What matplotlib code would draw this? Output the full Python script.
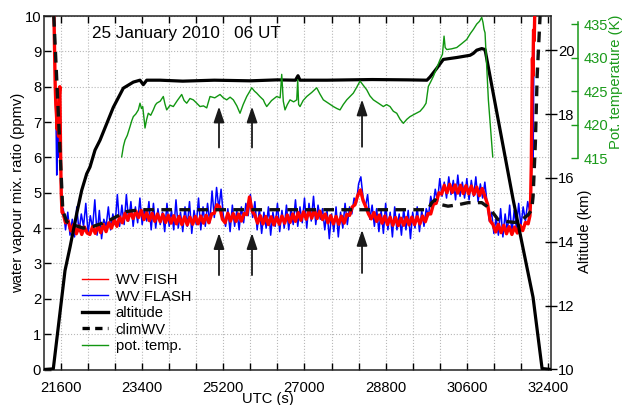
import numpy as np
import matplotlib
matplotlib.use("Agg")
import matplotlib.pyplot as plt
from matplotlib.lines import Line2D
from matplotlib.ticker import MultipleLocator, FixedLocator

plt.rcParams['font.family'] = ['Liberation Sans', 'DejaVu Sans']

# ---------------- data ----------------
# FISH water vapour (ppmv)
fish_t_left = [21440, 21455, 21470, 21485, 21500, 21515, 21530, 21545, 21560, 21575, 21590, 21605, 21622]
fish_v_left = [10.3, 9.2, 8.1, 7.5, 7.2, 6.8, 7.3, 6.6, 7.7, 8.0, 6.2, 5.0, 4.45]
fish_t_main = np.arange(21640, 31961, 60)
fish_v_main = [
    4.45, 4.15, 4.20, 3.92, 4.10, 3.84, 4.06, 3.82, 4.03, 3.86,
    3.82, 4.04, 3.85, 4.07, 3.87, 4.10, 3.90, 4.15, 4.00, 4.24,
    4.05, 4.32, 4.15, 4.42, 4.22, 4.47, 4.27, 4.48, 4.30, 4.50,
    4.24, 4.44, 4.21, 4.42, 4.19, 4.40, 4.18, 4.39, 4.16, 4.36,
    4.14, 4.35, 4.12, 4.33, 4.10, 4.32, 4.09, 4.31, 4.11, 4.33,
    4.12, 4.34, 4.14, 4.36, 4.15, 4.40, 4.42, 4.66, 4.60, 4.25,
    4.15, 4.42, 4.20, 4.41, 4.19, 4.40, 4.20, 4.41, 4.38, 4.88,
    4.48, 4.36, 4.14, 4.35, 4.12, 4.33, 4.10, 4.32, 4.09, 4.31,
    4.11, 4.34, 4.14, 4.37, 4.16, 4.40, 4.19, 4.44, 4.22, 4.46,
    4.25, 4.49, 4.28, 4.51, 4.27, 4.48, 4.24, 4.40, 4.15, 4.35,
    4.12, 4.33, 4.11, 4.34, 4.14, 4.39, 4.36, 4.60, 4.66, 4.92,
    5.08, 4.78, 4.60, 4.40, 4.26, 4.44, 4.19, 4.37, 4.14, 4.34,
    4.10, 4.31, 4.08, 4.30, 4.07, 4.28, 4.08, 4.30, 4.09, 4.31,
    4.10, 4.32, 4.12, 4.34, 4.18, 4.41, 4.40, 4.68, 4.70, 5.00,
    4.96, 5.21, 5.00, 5.24, 5.01, 5.22, 4.99, 5.21, 4.98, 5.20,
    4.97, 5.19, 4.95, 5.16, 4.92, 5.12, 4.90, 4.68, 4.20, 4.10,
    3.89, 4.11, 3.87, 4.08, 3.84, 4.04, 3.82, 4.03, 3.86, 4.08,
    3.93, 4.16, 4.12]
fish_t_right = [32000, 32015, 32030, 32045, 32055, 32065, 32080, 32095, 32110]
fish_v_right = [4.35, 4.8, 5.8, 7.8, 8.8, 8.3, 9.6, 9.3, 10.3]

# FLASH water vapour (ppmv)
flash_t_left = [21450, 21470, 21490, 21505, 21520, 21540, 21560, 21575, 21590, 21605, 21625]
flash_v_left = [10.2, 8.0, 7.0, 5.5, 6.8, 6.0, 7.5, 8.0, 6.5, 5.2, 4.4]
flash_t_main = np.arange(21650, 31951, 50)
flash_v_main = [
    4.55, 3.95, 4.45, 3.80, 4.25, 3.75, 4.60, 3.90, 4.40, 4.05,
    4.70, 3.85, 4.35, 4.00, 4.80, 3.80, 4.50, 3.70, 4.25, 4.05,
    4.60, 3.95, 4.40, 4.10, 4.95, 4.05, 4.65, 4.10, 4.95, 4.20,
    4.75, 4.05, 4.60, 4.15, 4.85, 4.10, 4.55, 4.20, 4.75, 3.95,
    4.70, 4.00, 4.55, 4.10, 4.45, 3.90, 4.70, 4.05, 4.50, 3.95,
    4.80, 4.00, 4.45, 3.90, 4.60, 4.05, 4.75, 3.85, 4.50, 4.10,
    4.85, 3.95, 4.60, 4.05, 4.70, 4.15, 5.05, 4.30, 5.15, 4.55,
    5.10, 4.35, 4.05, 4.55, 3.90, 4.65, 4.05, 4.50, 3.95, 4.60,
    4.15, 4.70, 4.35, 4.95, 4.30, 4.75, 3.95, 4.55, 3.85, 4.45,
    4.00, 4.60, 3.80, 4.45, 4.05, 4.70, 3.90, 4.50, 4.00, 4.65,
    3.95, 4.55, 4.10, 4.80, 4.05, 4.60, 4.15, 4.85, 4.00, 4.70,
    4.20, 4.90, 4.10, 4.65, 4.25, 4.55, 3.95, 4.50, 3.70, 4.40,
    3.90, 4.60, 3.75, 4.45, 4.00, 4.70, 4.10, 4.60, 4.40, 4.85,
    4.70, 5.25, 5.45, 4.85, 4.60, 4.95, 4.25, 4.65, 4.05, 4.55,
    3.90, 4.50, 3.85, 4.70, 3.95, 4.45, 3.75, 4.60, 3.95, 4.40,
    3.80, 4.55, 3.95, 4.50, 3.70, 4.45, 4.00, 4.60, 3.90, 4.50,
    4.05, 4.55, 4.35, 4.90, 4.60, 5.10, 4.75, 5.40, 4.90, 5.30,
    4.85, 5.45, 4.95, 5.35, 4.80, 5.50, 4.90, 5.30, 4.85, 5.40,
    4.80, 5.35, 4.90, 5.45, 4.75, 5.25, 4.85, 5.30, 4.70, 4.20,
    4.45, 3.85, 4.30, 3.80, 4.55, 3.75, 4.40, 3.90, 4.65, 3.85,
    4.50, 4.00, 4.70, 4.05, 4.60, 4.20, 4.75]
flash_t_right = [32000, 32020, 32040, 32055, 32070, 32085, 32100]
flash_v_right = [4.45, 4.7, 6.2, 7.0, 5.8, 8.5, 10.3]

# climatological water vapour (ppmv)
clim_t = [21440, 21640, 21726, 21873, 22095, 22316, 22614, 22835, 23057, 23352,
          29740, 29822, 29895, 30043, 30183, 30405, 30627, 30931, 31042, 31182,
          31293, 31515, 31670, 31818, 31958, 32040, 32070, 32120, 32160, 32225]
clim_v = [10.0, 4.5, 4.18, 4.09, 4.0, 4.05, 4.18, 4.33, 4.47, 4.52,
          4.52, 4.72, 4.8, 4.66, 4.62, 4.66, 4.72, 4.72, 4.62, 4.43,
          4.24, 4.18, 4.16, 4.24, 4.37, 4.52, 4.9, 6.4, 8.3, 10.0]

# altitude (km)
alt_t = [21220, 21429, 21689, 21800, 21948, 22059, 22170, 22243, 22354, 22465,
         22760, 22982, 23204, 23352, 23425, 23501, 23796, 24300, 25000, 25800,
         26400, 26800, 26856, 26900, 27500, 28500, 29300, 29715, 29784, 29933,
         30079, 30377, 30672, 30745, 30820, 30931, 31004, 31630, 32069, 32269, 32470]
alt_km = [10.0, 10.02, 13.1, 13.83, 14.88, 15.61, 16.13, 16.34, 16.87, 17.18,
          18.21, 18.81, 19.0, 19.06, 18.92, 19.06, 19.06, 19.03, 19.06, 19.04,
          19.07, 19.06, 19.2, 19.06, 19.06, 19.08, 19.07, 19.06, 19.16, 19.43,
          19.71, 19.77, 19.84, 19.9, 20.0, 20.05, 20.02, 15.3, 12.26, 10.03, 10.0]

# potential temperature (K)
theta_t = [22946, 22985, 23020, 23070, 23130, 23170, 23204, 23260, 23315, 23352,
           23385, 23412, 23440, 23463, 23500, 23536, 23590, 23647, 23690, 23723,
           23800, 23869, 23905, 23944, 24020, 24091, 24180, 24277, 24330, 24388,
           24460, 24534, 24610, 24683, 24760, 24832, 24870, 24905, 25010, 25127,
           25200, 25275, 25350, 25422, 25500, 25570, 25640, 25719, 25780, 25830,
           25890, 25941, 26010, 26087, 26120, 26162, 26270, 26384, 26460, 26495,
           26530, 26568, 26620, 26679, 26760, 26828, 26850, 26870, 26901, 26970,
           27050, 27160, 27271, 27340, 27418, 27530, 27640, 27720, 27788, 27860,
           27937, 28010, 28083, 28160, 28232, 28300, 28380, 28450, 28527, 28640,
           28749, 28820, 28897, 28970, 29046, 29120, 29192, 29270, 29341, 29450,
           29563, 29640, 29696, 29720, 29747, 29800, 29858, 29930, 30006, 30060,
           30095, 30120, 30155, 30260, 30377, 30490, 30598, 30680, 30745, 30820,
           30880, 30931, 30960, 30982, 31004, 31078, 31175]
theta_K = [415.2, 416.8, 417.7, 418.4, 419.7, 420.6, 421.2, 421.6, 422.2, 423.2,
           422.4, 422.7, 421.0, 419.5, 420.8, 421.7, 421.4, 422.2, 422.9, 423.2,
           423.5, 424.2, 423.1, 422.2, 422.9, 422.7, 423.6, 424.5, 423.6, 423.2,
           423.9, 423.7, 423.2, 422.7, 422.8, 422.5, 423.4, 424.2, 424.0, 424.5,
           424.0, 423.7, 424.1, 423.7, 422.8, 421.7, 423.0, 424.2, 424.9, 425.5,
           425.0, 424.7, 424.2, 423.7, 423.2, 422.7, 423.6, 424.2, 424.0, 427.5,
           423.5, 422.2, 423.0, 423.7, 423.4, 423.7, 426.7, 423.0, 422.7, 423.6,
           424.2, 424.8, 425.5, 424.6, 423.7, 423.2, 422.7, 422.4, 422.2, 423.0,
           423.7, 424.2, 424.7, 425.6, 426.5, 425.9, 425.2, 424.3, 423.7, 423.2,
           422.7, 423.0, 422.7, 422.0, 421.7, 420.8, 420.2, 420.8, 421.2, 421.6,
           422.0, 422.6, 423.2, 424.4, 425.7, 426.4, 427.2, 428.4, 429.7, 430.5,
           433.2, 431.5, 431.2, 431.3, 431.5, 432.1, 432.7, 433.6, 434.2, 435.0,
           435.4, 436.0, 435.2, 434.2, 433.7, 423.7, 415.2]

arrow_times = [25104, 25836, 28276]
x_major = [21600, 23400, 25200, 27000, 28800, 30600, 32400]
title_text = "25 January 2010   06 UT"

# ---------------- figure ----------------
W, H = 625, 405
fig = plt.figure(figsize=(W / 100, H / 100), dpi=100)
L, R, T, B = 44, 551, 16, 369.5
ax = fig.add_axes([L / W, 1 - B / H, (R - L) / W, (B - T) / H])

fish_t = np.concatenate([fish_t_left, fish_t_main, fish_t_right])
fish_v = np.concatenate([fish_v_left, fish_v_main, fish_v_right])
flash_t = np.concatenate([flash_t_left, flash_t_main, flash_t_right])
flash_v = np.concatenate([flash_v_left, flash_v_main, flash_v_right])

ax.plot(flash_t, flash_v, color='#0000ff', lw=1.1, zorder=3)
ax.plot(fish_t, fish_v, color='#ff0000', lw=2.4, zorder=4)
ax.plot(clim_t, clim_v, color='#111111', lw=2.4, ls=(0, (3.2, 2.2)), zorder=5)

ax.set_xlim(21223, 32467)
ax.set_ylim(0, 10)
ax.xaxis.set_major_locator(FixedLocator(x_major))
ax.xaxis.set_minor_locator(MultipleLocator(600))
ax.yaxis.set_major_locator(MultipleLocator(1))
ax.grid(which='both', axis='x', ls=':', color='#b8b8b8', lw=0.8)
ax.grid(which='major', axis='y', ls=':', color='#b8b8b8', lw=0.8)
ax.tick_params(axis='x', which='both', direction='in', length=5, top=True,
               labelsize=10.6, pad=8.5, width=1)
ax.tick_params(axis='y', which='both', direction='in', length=5, right=False,
               labelsize=10.6, pad=2, width=1)
for s in ax.spines.values():
    s.set_linewidth(1.1)
    s.set_color('#222222')

# arrows
for i, ta in enumerate(arrow_times):
    up = (6.28, 7.44) if i < 2 else (6.3, 7.64)
    lo = (2.67, 3.86) if i < 2 else (2.73, 3.95)
    for (y0, y1) in (up, lo):
        ax.annotate('', xy=(ta, y1), xytext=(ta, y0),
                    arrowprops=dict(arrowstyle='-|>,head_width=0.32,head_length=0.95',
                                    color='#1a1a1a', lw=1.3, shrinkA=0, shrinkB=0,
                                    mutation_scale=10), zorder=6)

# altitude axis
ax2 = ax.twinx()
ax2.plot(alt_t, alt_km, color='black', lw=2.3, zorder=6)
ax2.set_ylim(10, 21.07)
ax2.yaxis.set_major_locator(MultipleLocator(2))
ax2.tick_params(axis='y', which='major', direction='inout', length=8, width=1,
                labelsize=10.6, pad=1)
for s in ax2.spines.values():
    s.set_visible(False)

# potential temperature axis
green = '#1a9a1a'
ax3 = ax.twinx()
ax3.plot(theta_t, theta_K, color='#119611', lw=1.0)
ax3.set_ylim(383.5, 436.2)
ax3.set_yticks([415, 420, 425, 430, 435])
for k, s in ax3.spines.items():
    s.set_visible(k == 'right')
ax3.spines['right'].set_position(('axes', 1.053))
ax3.spines['right'].set_bounds(415, 435.3)
ax3.spines['right'].set_color(green)
ax3.spines['right'].set_linewidth(1.1)
ax3.tick_params(axis='y', direction='in', length=5, width=1, colors=green,
                labelsize=10.6, pad=4)

# legend
handles = [Line2D([], [], color='#ff0000', lw=1.0),
           Line2D([], [], color='#0000ff', lw=1.0),
           Line2D([], [], color='black', lw=2.4),
           Line2D([], [], color='black', lw=2.4, ls=(0, (2.2, 1.6))),
           Line2D([], [], color='#119611', lw=1.0)]
labels = ['WV FISH', 'WV FLASH', 'altitude', 'climWV', 'pot. temp.']
fig.legend(handles, labels, loc='upper left', bbox_to_anchor=(82 / W, 1 - 273 / H),
           bbox_transform=fig.transFigure, frameon=False, fontsize=10.6,
           handlelength=1.78, handletextpad=0.5, labelspacing=0.17,
           borderpad=0, borderaxespad=0)

# texts
fig.text(92 / W, 1 - 37.7 / H, title_text, fontsize=12.3, va='baseline', ha='left')
fig.text(18 / W, 1 - 193 / H, 'water vapour mix. ratio (ppmv)', rotation=90,
         fontsize=10.6, ha='center', va='center')
fig.text(268 / W, 1 - 399.5 / H, 'UTC (s)', fontsize=10.6, ha='center', va='center')
fig.text(585 / W, 1 - 231 / H, 'Altitude (km)', rotation=90, fontsize=10.6,
         ha='center', va='center')
fig.text(616 / W, 1 - 82 / H, 'Pot. temperature (K)', rotation=90, fontsize=10.6,
         ha='center', va='center', color=green)

fig.savefig('out.png', dpi=100)
